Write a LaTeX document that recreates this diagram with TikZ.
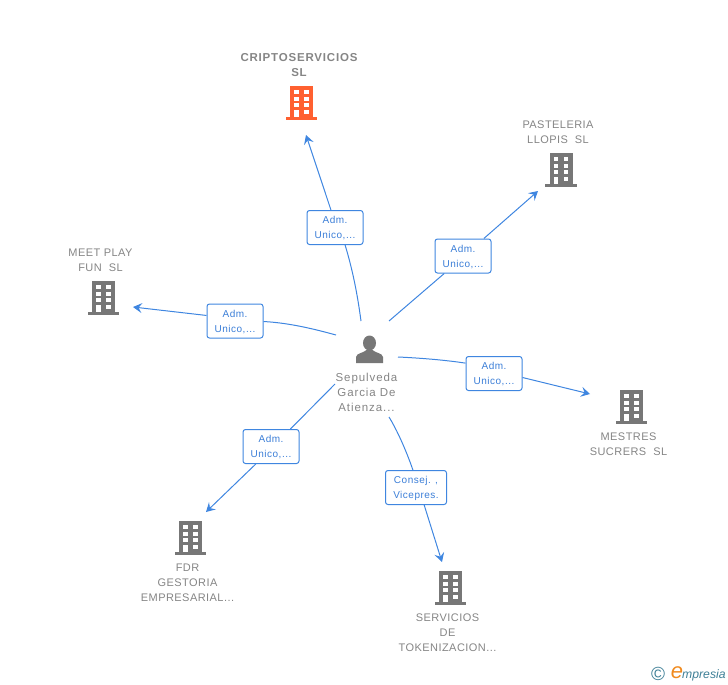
\documentclass[tikz,border=0pt]{standalone}
\usepackage{fontspec}
\setmainfont{Liberation Sans}
\newfontfamily\cmpfont[LetterSpace=4]{Liberation Sans}
\newfontfamily\perfont[LetterSpace=8]{Liberation Sans}
\newfontfamily\titlefont[LetterSpace=7,BoldFont={Liberation Sans Bold}]{Liberation Sans}
\newfontfamily\admfont[LetterSpace=5]{Liberation Sans}
\usetikzlibrary{arrows.meta}
\definecolor{linkblue}{HTML}{3F86E0}
\definecolor{labblue}{HTML}{3C7FD8}
\definecolor{cmpgrey}{HTML}{777777}
\definecolor{txtgrey}{HTML}{858585}
\definecolor{cmporange}{HTML}{FF6030}
\definecolor{logoblue}{HTML}{3E7F96}
\definecolor{logoorange}{HTML}{F08A1E}
\tikzset{
  building/.pic={
    \fill[pic actions] (-11,-17) rectangle (12,14);
    \fill[pic actions] (-15.5,14) rectangle (16,16.5);
    \foreach \wy in {-13,-6,0}{
      \fill[white] (-7,\wy) rectangle (-2.5,\wy+4);
      \fill[white] (3,\wy) rectangle (7.5,\wy+4);
    }
    \fill[white] (-7,6.5) rectangle (-2.5,14);
    \fill[white] (3,6.5) rectangle (7.5,11);
  },
  person/.pic={
    \fill[cmpgrey] (0,-7) ellipse (6.5 and 7.5);
    \fill[cmpgrey] (-13.5,13) -- (-13.5,7) .. controls (-13,3) and (-6,3) .. (-3,0) -- (3,0) .. controls (6,3) and (13,3) .. (13.5,7) -- (13.5,13) -- cycle;
  },
  adm/.style={draw=linkblue, line width=1pt, rounded corners=2.5pt, fill=white, text=labblue, font=\admfont\fontsize{10}{15}\selectfont, align=center, inner sep=0pt, text depth=0pt, minimum width=56pt, minimum height=34pt},
  cmp/.style={text=txtgrey, font=\cmpfont\fontsize{11}{15}\selectfont, align=center, inner sep=0pt},
  link/.style={draw=linkblue, line width=1pt},
  tip/.style={-{Stealth[length=9pt,width=10pt,inset=3.5pt]}}
}
\begin{document}
\begin{tikzpicture}[x=1pt,y=-1pt]
\useasboundingbox (0,0) rectangle (728,685);
\pic[fill=cmporange] at (301,103) {building};
\pic[fill=cmpgrey] at (560.5,170) {building};
\pic[fill=cmpgrey] at (103,298) {building};
\pic[fill=cmpgrey] at (631,407) {building};
\pic[fill=cmpgrey] at (190,538) {building};
\pic[fill=cmpgrey] at (450,588) {building};
\pic at (369.5,350) {person};
\node[cmp, font=\titlefont\fontsize{11.5}{15}\selectfont\bfseries] (cmp1) at (299,65.3) {CRIPTOSERVICIOS\\SL};
\node[cmp] (cmp2) at (558,132.3) {PASTELERIA\\LLOPIS\ \ SL};
\node[cmp] (cmp3) at (100.5,260.3) {MEET PLAY\\FUN\ \ SL};
\node[cmp] (cmp4) at (628.5,444.3) {MESTRES\\SUCRERS\ \ SL};
\node[cmp] (cmp5) at (187.5,582.8) {FDR\\GESTORIA\\EMPRESARIAL...};
\node[cmp] (cmp6) at (447.5,632.8) {SERVICIOS\\DE\\TOKENIZACION...};
\node[cmp, font=\perfont\fontsize{11.5}{15}\selectfont] (per) at (366.5,392.5) {Sepulveda\\Garcia De\\Atienza...};
\node[adm] (lab1) at (335,227.5) {Adm.\\Unico,...};
\node[adm] (lab2) at (463,256) {Adm.\\Unico,...};
\node[adm] (lab3) at (235,321) {Adm.\\Unico,...};
\node[adm] (lab4) at (494,373.5) {Adm.\\Unico,...};
\node[adm] (lab5) at (271,446.5) {Adm.\\Unico,...};
\node[adm, minimum width=61pt] (lab6) at (416,487.5) {Consej. ,\\Vicepres.};
\coordinate (from1) at (361,321);
\coordinate (from2) at (389,321);
\coordinate (from3) at (336,335);
\coordinate (from4) at (398,357);
\coordinate (from5) at (335,384);
\coordinate (from6) at (389,417);
\coordinate (to1) at (306,135);
\coordinate (to2) at (538,191);
\coordinate (to3) at (133,307);
\coordinate (to4) at (590,394);
\coordinate (to5) at (206,512);
\coordinate (to6) at (442,562);
\draw[link] (from1) .. controls (357,291) and (352,268) .. (lab1.-60);
\draw[link, tip] (lab1.103) -- (to1);
\draw[link] (from2) -- (lab2.-137);
\draw[link, tip] (lab2.40) -- (to2);
\draw[link] (from3) .. controls (314,329) and (290,323) .. (lab3.-1);
\draw[link, tip] (lab3.169) -- (to3);
\draw[link] (from4) .. controls (420,358) and (445,360) .. (lab4.160);
\draw[link, tip] (lab4.-8) -- (to4);
\draw[link] (from5) -- (lab5.42);
\draw[link, tip] (lab5.-131) -- (to5);
\draw[link] (from6) .. controls (397,430) and (406,450) .. (lab6.100);
\draw[link, tip] (lab6.-65) -- (to6);
\node[text=logoblue, font=\fontsize{19}{19}\selectfont, inner sep=0pt] (copy) at (658,674) {©};
\node[text=logoorange, font=\fontsize{22}{22}\selectfont\itshape, inner sep=0pt] (logoe) at (677,673) {e};
\node[text=logoblue, font=\fontsize{12.2}{12}\selectfont\itshape, anchor=west, inner sep=0pt] (logo) at (682,675) {mpresia};
\end{tikzpicture}
\end{document}
